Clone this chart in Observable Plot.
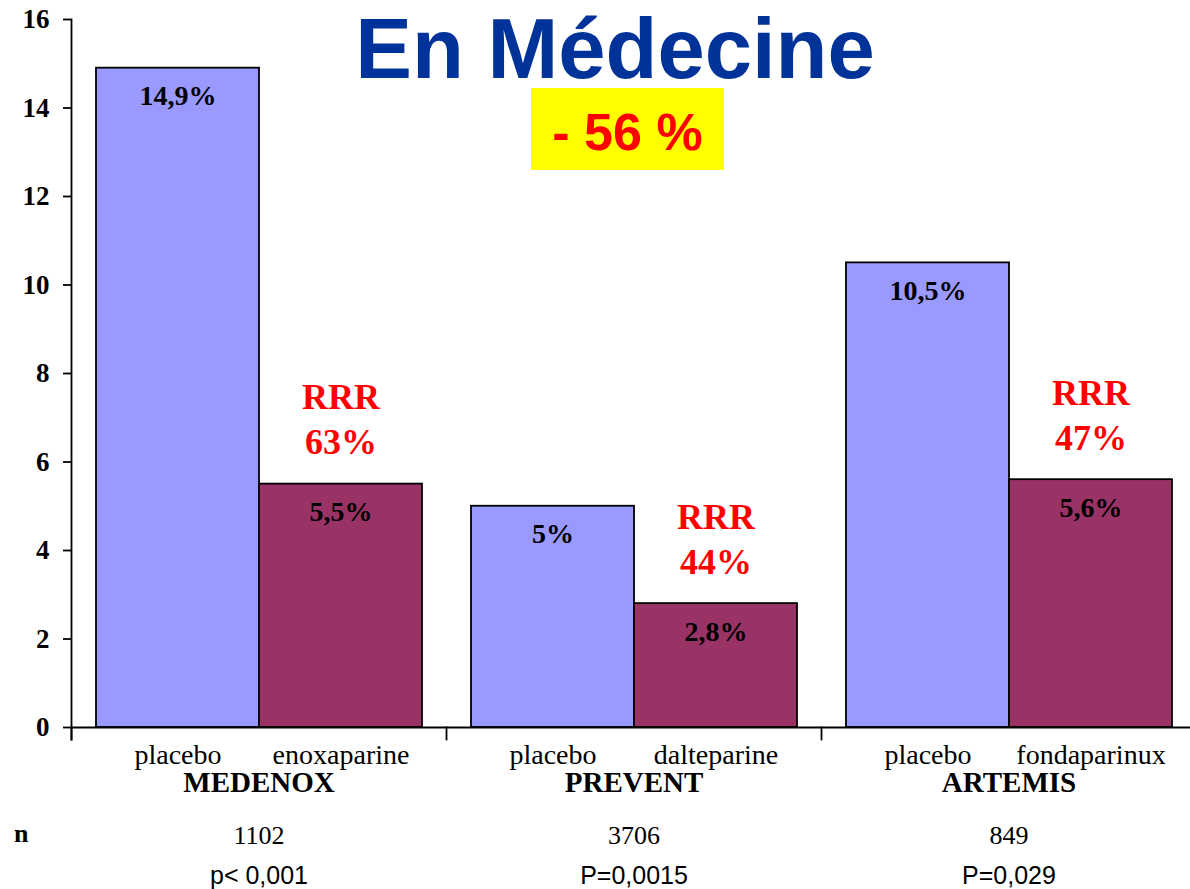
<!DOCTYPE html>
<html>
<head>
<meta charset="utf-8">
<script src="https://cdn.jsdelivr.net/npm/d3@7"></script>
<script src="https://cdn.jsdelivr.net/npm/@observablehq/plot@0.6"></script>
<style>
  html, body { margin: 0; padding: 0; background: #fff; }
  #wrap { position: relative; width: 1190px; height: 889px; overflow: hidden; }
  #title { position: absolute; left: 615px; top: 6px; transform: translateX(-50%);
           font-family: "Liberation Sans", Arial, sans-serif; font-weight: bold;
           font-size: 85px; line-height: 85px; color: #003399; white-space: nowrap; }
  #badge { position: absolute; left: 531px; top: 88px; width: 193px; height: 82px;
           background: #ffff00; color: #ff0000; display: flex; align-items: center; justify-content: center;
           font-family: "Liberation Sans", Arial, sans-serif; font-weight: bold; font-size: 52px; padding-top: 6px; box-sizing: border-box; }
  #nlabel { position: absolute; left: 14px; top: 821px; font-family: "Liberation Serif", "Times New Roman", serif;
            font-weight: bold; font-size: 26px; line-height: 26px; }
</style>
</head>
<body>
<div id="wrap">
  <div id="chart"></div>
  <div id="title">En Médecine</div>
  <div id="badge">- 56 %</div>
  <div id="nlabel">n</div>
</div>
<script>
// ---- Data ----
const studies = ["MEDENOX", "PREVENT", "ARTEMIS"];
const treatments = ["enoxaparine", "dalteparine", "fondaparinux"];
const placeboRates = [14.9, 5, 10.5];
const treatmentRates = [5.5, 2.8, 5.6];
const rrrLabels = ["63%", "44%", "47%"];
const nPatients = ["1102", "3706", "849"];
const pValues = ["p< 0,001", "P=0,0015", "P=0,029"];
const yTicks = [0, 2, 4, 6, 8, 10, 12, 14, 16];
const arms = ["placebo", "traitement"];

// ---- Tables built from arrays ----
const fmt = v => String(v).replace(".", ",") + "%";
const bars = [];
studies.forEach((s, i) => {
  bars.push({study: s, arm: "placebo", name: "placebo", value: placeboRates[i]});
  bars.push({study: s, arm: "traitement", name: treatments[i], value: treatmentRates[i]});
});
const groups = studies.map((s, i) => ({study: s, n: nPatients[i], p: pValues[i],
  rrr: "RRR\n" + rrrLabels[i], treated: treatmentRates[i]}));

const W = 1190, H = 889, mTop = 19, mBottom = 162;
const serif = "'Liberation Serif', 'Times New Roman', serif";
const sans = "'Liberation Sans', Arial, sans-serif";

const chart = Plot.plot({
  width: W, height: H,
  marginLeft: 70, marginRight: -6, marginTop: mTop, marginBottom: mBottom,
  style: {fontFamily: serif, background: "white", color: "black", overflow: "visible"},
  fx: {domain: studies, padding: 0, axis: null},
  x: {domain: arms, paddingInner: 0, paddingOuter: 0.15, axis: null},
  y: {domain: [0, 16], axis: null},
  color: {domain: arms, range: ["#9999ff", "#993366"]},
  marks: [
    Plot.barY(bars, {fx: "study", x: "arm", y: "value", fill: "arm", stroke: "black", strokeWidth: 1.8}),
    Plot.ruleY([0], {stroke: "black", strokeWidth: 1.8}),
    // y axis line (left facet only) and group separator ticks
    Plot.frame({anchor: "left", facetAnchor: "left", stroke: "black", strokeWidth: 1.8, insetBottom: -12}),
    Plot.frame({anchor: "left", stroke: "black", strokeWidth: 1.8, insetTop: H - mTop - mBottom, insetBottom: -12}),
    Plot.axisY({ticks: yTicks, tickSize: 8, tickPadding: 14, tickFormat: d => d,
      fontSize: 27, fontWeight: "bold", fontFamily: serif, stroke: "black", strokeWidth: 1.8}),
    // value labels inside bars
    Plot.text(bars, {fx: "study", x: "arm", y: "value", text: d => fmt(d.value), lineAnchor: "bottom", dy: 37,
      fontSize: 28, fontWeight: "bold", fontFamily: serif, fill: "black"}),
    // RRR labels above treatment bars
    Plot.text(groups, {fx: "study", x: () => "traitement", y: "treated", text: "rrr", lineAnchor: "bottom", dy: -30,
      lineHeight: 1.25, fontSize: 36, fontWeight: "bold", fontFamily: serif, fill: "#ff0000"}),
    // arm names
    Plot.text(bars, {fx: "study", x: "arm", text: "name", frameAnchor: "bottom", lineAnchor: "bottom", dy: 36,
      fontSize: 28, fontFamily: serif, fill: "black"}),
    // study names
    Plot.text(groups, {fx: "study", text: "study", frameAnchor: "bottom", lineAnchor: "bottom", dy: 64,
      fontSize: 29, fontWeight: "bold", fontFamily: serif, fill: "black"}),
    // n
    Plot.text(groups, {fx: "study", text: "n", frameAnchor: "bottom", lineAnchor: "bottom", dy: 116,
      fontSize: 26, fontFamily: serif, fill: "black"}),
    // p-values
    Plot.text(groups, {fx: "study", text: "p", frameAnchor: "bottom", lineAnchor: "bottom", dy: 156,
      fontSize: 25, fontFamily: sans, fill: "black"})
  ]
});
document.getElementById("chart").appendChild(chart);
</script>
</body>
</html>
